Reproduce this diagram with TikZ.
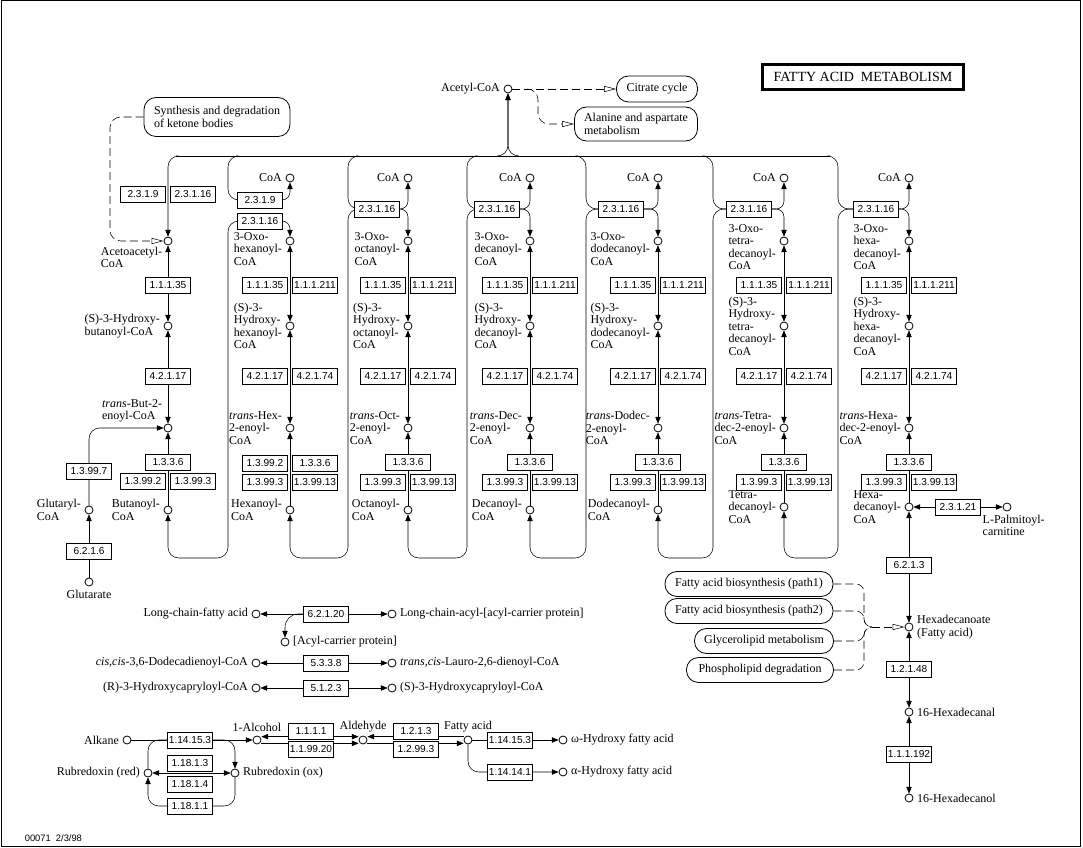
\documentclass[tikz,border=0pt]{standalone}
\usepackage{fontspec}
\setmainfont{Liberation Serif}
\newfontfamily\ecfamily{Liberation Sans}
\usetikzlibrary{positioning,arrows.meta,backgrounds}

\begin{document}
\begin{tikzpicture}[x=0.75pt, y=-0.75pt,
  font=\fontsize{9}{9.4}\selectfont, line width=0.6pt,
  label distance=2.5pt,
  every label/.style={align=left, inner sep=0pt},
  cpd/.style={circle, draw, fill=white, inner sep=0pt, minimum size=6pt},
  ec/.style={draw, fill=white, inner sep=1pt, minimum width=33.75pt,
             minimum height=12pt, font=\ecfamily\fontsize{7.6}{8}\selectfont},
  mapbox/.style={draw, fill=white, rounded corners=9pt, align=left, inner sep=2pt},
  arr/.style={-{Triangle[length=5pt,width=4pt]}},
  rxn/.style={{Triangle[length=5pt,width=4pt]}-{Triangle[length=5pt,width=4pt]}},
  dlink/.style={dash pattern=on 6pt off 3pt},
  link/.style={dlink, -{Triangle[open,length=9pt,width=4.5pt]}}]

\useasboundingbox (0,0) rectangle (1083,848);

\node[draw, line width=2.2pt, minimum width=150.75pt, minimum height=18.75pt,
      font=\fontsize{10.5}{12}\selectfont] (title) at (863,77) {FATTY ACID\ \ METABOLISM};

% acetyl-CoA and the linked maps
\node[cpd, label={left:{Acetyl-CoA}}] (acoa) at (508,89) {};
\node[mapbox, minimum width=60.75pt, minimum height=19.5pt] (tca) at (657,89) {Citrate cycle};
\node[mapbox, minimum width=92.25pt, minimum height=25.5pt] (ala) at (636,124) {Alanine and aspartate\\metabolism};
\node[mapbox, minimum width=109.5pt, minimum height=29.25pt] (ket) at (217,117) {Synthesis and degradation\\of ketone bodies};
\coordinate (busl) at (176,156);
\coordinate (busr) at (830,156);
\coordinate (hubl) at (500,156);
\coordinate (hubr) at (516,156);
\coordinate (split) at (528,89);
\coordinate (ketbend) at (110,241);

% C4
\node[cpd, label={below left:{Acetoacetyl-\\CoA}}] (oxo1) at (168,241) {};
\node[cpd, label={left:{(S)-3-Hydroxy-\\butanoyl-CoA}}] (hyd1) at (168,326) {};
\node[cpd, label={above left:{\textit{trans}-But-2-\\enoyl-CoA}}] (ens1) at (168,428) {};
\node[cpd, label={left:{Butanoyl-\\CoA}}] (acy1) at (168,510) {};
\node[ec] (thA1) at (143,194) {2.3.1.9};
\node[ec] (thB1) at (193,194) {2.3.1.16};
\node[ec] (dh1)  at (168,285) {1.1.1.35};
\node[ec] (hy1)  at (168,376) {4.2.1.17};
\node[ec] (ox1)  at (168,462) {1.3.3.6};
\node[ec] (ac1)  at (143,481) {1.3.99.2};
\node[ec] (ad1)  at (193,481) {1.3.99.3};
\node[cpd, label={left:{Glutaryl-\\CoA}}] (glc) at (89,510) {};
\node[cpd, label={below:{Glutarate}}] (glt) at (89,582) {};
\node[ec] (gdh) at (89,471) {1.3.99.7};
\node[ec] (gcl) at (89,551) {6.2.1.6};

% C6
\node[cpd, label={left:{CoA}}] (coa2) at (290,178) {};
\node[cpd, label={[yshift=-6pt]left:{3-Oxo-\\hexanoyl-\\CoA}}] (oxo2) at (290,241) {};
\node[cpd, label={left:{(S)-3-\\Hydroxy-\\hexanoyl-\\CoA}}] (hyd2) at (290,326) {};
\node[cpd, label={left:{\textit{trans}-Hex-\\2-enoyl-\\CoA}}] (ens2) at (290,428) {};
\node[cpd, label={left:{Hexanoyl-\\CoA}}] (acy2) at (290,510) {};
\node[ec] (thA2) at (260,200) {2.3.1.9};
\node[ec] (thB2) at (260,221) {2.3.1.16};
\node[ec] (dh2)  at (265,285) {1.1.1.35};
\node[ec] (dhb2) at (315,285) {1.1.1.211};
\node[ec] (hy2)  at (265,376) {4.2.1.17};
\node[ec] (hyb2) at (315,376) {4.2.1.74};
\node[ec] (ac2)  at (265,463) {1.3.99.2};
\node[ec] (ox2)  at (315,463) {1.3.3.6};
\node[ec] (ad2)  at (265,482) {1.3.99.3};
\node[ec] (adb2) at (315,482) {1.3.99.13};

% C8
\node[cpd, label={left:{CoA}}] (coa3) at (408,178) {};
\node[cpd, label={[yshift=-6pt]left:{3-Oxo-\\octanoyl-\\CoA}}] (oxo3) at (408,241) {};
\node[cpd, label={left:{(S)-3-\\Hydroxy-\\octanoyl-\\CoA}}] (hyd3) at (408,326) {};
\node[cpd, label={left:{\textit{trans}-Oct-\\2-enoyl-\\CoA}}] (ens3) at (408,428) {};
\node[cpd, label={left:{Octanoyl-\\CoA}}] (acy3) at (408,510) {};
\node[ec] (thB3) at (377,209) {2.3.1.16};
\node[ec] (dh3)  at (383,285) {1.1.1.35};
\node[ec] (dhb3) at (433,285) {1.1.1.211};
\node[ec] (hy3)  at (383,376) {4.2.1.17};
\node[ec] (hyb3) at (433,376) {4.2.1.74};
\node[ec] (ox3)  at (408,462) {1.3.3.6};
\node[ec] (ad3)  at (383,482) {1.3.99.3};
\node[ec] (adb3) at (433,482) {1.3.99.13};

% C10
\node[cpd, label={left:{CoA}}] (coa4) at (530,178) {};
\node[cpd, label={[yshift=-6pt]left:{3-Oxo-\\decanoyl-\\CoA}}] (oxo4) at (530,241) {};
\node[cpd, label={left:{(S)-3-\\Hydroxy-\\decanoyl-\\CoA}}] (hyd4) at (530,326) {};
\node[cpd, label={left:{\textit{trans}-Dec-\\2-enoyl-\\CoA}}] (ens4) at (530,428) {};
\node[cpd, label={left:{Decanoyl-\\CoA}}] (acy4) at (530,510) {};
\node[ec] (thB4) at (497,209) {2.3.1.16};
\node[ec] (dh4)  at (505,285) {1.1.1.35};
\node[ec] (dhb4) at (555,285) {1.1.1.211};
\node[ec] (hy4)  at (505,376) {4.2.1.17};
\node[ec] (hyb4) at (555,376) {4.2.1.74};
\node[ec] (ox4)  at (530,462) {1.3.3.6};
\node[ec] (ad4)  at (505,482) {1.3.99.3};
\node[ec] (adb4) at (555,482) {1.3.99.13};

% C12
\node[cpd, label={left:{CoA}}] (coa5) at (658,178) {};
\node[cpd, label={[yshift=-6pt]left:{3-Oxo-\\dodecanoyl-\\CoA}}] (oxo5) at (658,241) {};
\node[cpd, label={left:{(S)-3-\\Hydroxy-\\dodecanoyl-\\CoA}}] (hyd5) at (658,326) {};
\node[cpd, label={left:{\textit{trans}-Dodec-\\2-enoyl-\\CoA}}] (ens5) at (658,428) {};
\node[cpd, label={left:{Dodecanoyl-\\CoA}}] (acy5) at (658,510) {};
\node[ec] (thB5) at (621,209) {2.3.1.16};
\node[ec] (dh5)  at (633,285) {1.1.1.35};
\node[ec] (dhb5) at (683,285) {1.1.1.211};
\node[ec] (hy5)  at (633,376) {4.2.1.17};
\node[ec] (hyb5) at (683,376) {4.2.1.74};
\node[ec] (ox5)  at (658,462) {1.3.3.6};
\node[ec] (ad5)  at (633,482) {1.3.99.3};
\node[ec] (adb5) at (683,482) {1.3.99.13};

% C14
\node[cpd, label={left:{CoA}}] (coa6) at (784,178) {};
\node[cpd, label={[yshift=-4.5pt]left:{3-Oxo-\\tetra-\\decanoyl-\\CoA}}] (oxo6) at (784,241) {};
\node[cpd, label={left:{(S)-3-\\Hydroxy-\\tetra-\\decanoyl-\\CoA}}] (hyd6) at (784,326) {};
\node[cpd, label={left:{\textit{trans}-Tetra-\\dec-2-enoyl-\\CoA}}] (ens6) at (784,428) {};
\node[cpd, label={left:{Tetra-\\decanoyl-\\CoA}}] (acy6) at (784,507) {};
\node[ec] (thB6) at (749,209) {2.3.1.16};
\node[ec] (dh6)  at (759,285) {1.1.1.35};
\node[ec] (dhb6) at (809,285) {1.1.1.211};
\node[ec] (hy6)  at (759,376) {4.2.1.17};
\node[ec] (hyb6) at (809,376) {4.2.1.74};
\node[ec] (ox6)  at (784,462) {1.3.3.6};
\node[ec] (ad6)  at (759,482) {1.3.99.3};
\node[ec] (adb6) at (809,482) {1.3.99.13};

% C16
\node[cpd, label={left:{CoA}}] (coa7) at (909,178) {};
\node[cpd, label={[yshift=-4.5pt]left:{3-Oxo-\\hexa-\\decanoyl-\\CoA}}] (oxo7) at (909,241) {};
\node[cpd, label={left:{(S)-3-\\Hydroxy-\\hexa-\\decanoyl-\\CoA}}] (hyd7) at (909,326) {};
\node[cpd, label={left:{\textit{trans}-Hexa-\\dec-2-enoyl-\\CoA}}] (ens7) at (909,428) {};
\node[cpd, label={left:{Hexa-\\decanoyl-\\CoA}}] (acy7) at (909,507) {};
\node[ec] (thB7) at (876,209) {2.3.1.16};
\node[ec] (dh7)  at (884,285) {1.1.1.35};
\node[ec] (dhb7) at (934,285) {1.1.1.211};
\node[ec] (hy7)  at (884,376) {4.2.1.17};
\node[ec] (hyb7) at (934,376) {4.2.1.74};
\node[ec] (ox7)  at (909,462) {1.3.3.6};
\node[ec] (ad7)  at (884,482) {1.3.99.3};
\node[ec] (adb7) at (934,482) {1.3.99.13};

\node[cpd, label={[xshift=5pt]below:{L-Palmitoyl-\\carnitine}}] (lpc) at (1007,507) {};
\node[ec] (cpt) at (958,507) {2.3.1.21};
\node[ec] (acs) at (909,565) {6.2.1.3};
\node[cpd, label={right:{Hexadecanoate\\(Fatty acid)}}] (hxa) at (909,627) {};
\node[ec] (fald) at (909,669) {1.2.1.48};
\node[cpd, label={right:{16-Hexadecanal}}] (hxal) at (909,712) {};
\node[ec] (fadh) at (909,754) {1.1.1.192};
\node[cpd, label={right:{16-Hexadecanol}}] (hxol) at (909,798) {};

\node[mapbox, minimum width=126pt, minimum height=18.75pt] (fab1) at (749,584) {Fatty acid biosynthesis (path1)};
\node[mapbox, minimum width=126pt, minimum height=18.75pt] (fab2) at (749,611) {Fatty acid biosynthesis (path2)};
\node[mapbox, minimum width=104.25pt, minimum height=18.75pt] (glm) at (764,641) {Glycerolipid metabolism};
\node[mapbox, minimum width=110.25pt, minimum height=18.75pt] (pld) at (760,670) {Phospholipid degradation};
\coordinate (brace) at (864,627);
\coordinate (bracetip) at (872,627);

% side reactions
\node[cpd, label={left:{Long-chain-fatty acid}}] (lcfa) at (256,614) {};
\node[ec] (lcs) at (326,614) {6.2.1.20};
\node[cpd, label={right:{Long-chain-acyl-[acyl-carrier protein]}}] (lcacp) at (392,614) {};
\node[cpd, label={right:{[Acyl-carrier protein]}}] (acp) at (285,642) {};
\node[cpd, label={left:{\textit{cis,cis}-3,6-Dodecadienoyl-CoA}}] (ccd) at (256,663) {};
\node[ec] (eci) at (326,663) {5.3.3.8};
\node[cpd, label={right:{\textit{trans,cis}-Lauro-2,6-dienoyl-CoA}}] (tcl) at (392,663) {};
\node[cpd, label={left:{(R)-3-Hydroxycapryloyl-CoA}}] (rhc) at (256,688) {};
\node[ec] (epi) at (326,688) {5.1.2.3};
\node[cpd, label={right:{(S)-3-Hydroxycapryloyl-CoA}}] (shc) at (392,688) {};

\node[cpd, label={left:{Alkane}}] (alk) at (127,740) {};
\node[ec] (ahx) at (190,740) {1.14.15.3};
\node[cpd, label={above:{1-Alcohol}}] (alc) at (257,740) {};
\node[cpd, label={left:{Rubredoxin (red)}}] (rred) at (148,773) {};
\node[cpd, label={right:{Rubredoxin (ox)}}] (rox) at (235,773) {};
\node[ec] (rdr1) at (190,763) {1.18.1.3};
\node[ec] (rdr2) at (190,784) {1.18.1.4};
\node[ec] (rdr3) at (190,806) {1.18.1.1};
\node[ec] (adhA) at (311,731) {1.1.1.1};
\node[ec] (adhB) at (311,749) {1.1.99.20};
\node[cpd, label={above:{Aldehyde}}] (ald) at (363,740) {};
\node[ec] (aldA) at (416,731) {1.2.1.3};
\node[ec] (aldB) at (416,749) {1.2.99.3};
\node[cpd, label={above:{Fatty acid}}] (fa) at (468,740) {};
\node[ec] (omg) at (510,740) {1.14.15.3};
\node[cpd, label={right:{ω-Hydroxy fatty acid}}] (ohfa) at (563,740) {};
\node[ec] (alp) at (510,772) {1.14.14.1};
\node[cpd, label={right:{α-Hydroxy fatty acid}}] (ahfa) at (563,772) {};

\node[anchor=west, font=\ecfamily\fontsize{7}{8}\selectfont] (stamp) at (20,838) {00071\ \ 2/3/98};

\begin{scope}[on background layer]
\draw[line width=0.75pt] (1,1) rectangle (1080,846);

% links to other maps
\draw[link] (acoa) -- (tca);
\draw[link, rounded corners=8] (split) -| (538,124) -- (ala);
\draw[link, rounded corners=8] (ket) -| (ketbend) -- (oxo1);
\foreach \p in {fab1,fab2,glm,pld}
  \draw[dlink, rounded corners=6] (\p) -| (brace) -- (bracetip);
\draw[link] (bracetip) -- (hxa);

% acetyl-CoA bus and thiolase loops
\draw (busl) -- (busr);
\draw[arr, rounded corners=8] (busl) -| (oxo1);
\draw[arr, rounded corners=8] (hubl) -| (acoa);
\draw[arr, rounded corners=8] (hubr) -| (acoa);
\draw[rounded corners=8] (busr) -| (838,209) -- (thB7);
\foreach \n/\bx in {2/228, 3/348, 4/467}
  \coordinate (tap\n) at (\bx+8,156);
\foreach \n/\bx in {5/586, 6/713}
  \coordinate (tap\n) at (\bx-8,156);
\draw[rounded corners=8] (tap2) -| (228,200) -- (thA2);
\foreach \n/\bx in {3/348, 4/467, 5/586, 6/713}
  \draw[rounded corners=8] (tap\n) -| (\bx,209) -- (thB\n);
\foreach \n/\m/\bx in {1/2/228, 2/3/348, 3/4/467, 4/5/586, 5/6/713, 6/7/838}
  \draw[arr, rounded corners=8] (thB\m) -| (\bx,558) -| (acy\n);
\draw[arr, rounded corners=6] (thA2) -| (coa2);
\draw[arr, rounded corners=6] (thB2) -| (oxo2);
\foreach \n in {3,...,7} {
  \draw[arr, rounded corners=6] (thB\n) -| (coa\n);
  \draw[arr, rounded corners=6] (thB\n) -| (oxo\n);
}
\foreach \n in {1,...,7} {
  \draw[rxn] (oxo\n) -- (hyd\n);
  \draw[rxn] (hyd\n) -- (ens\n);
  \draw[arr] (acy\n) -- (ens\n);
}
\draw[arr] (glt) -- (glc);
\draw[arr, rounded corners=8] (glc) |- (ens1);

% hexadecanoyl-CoA branch
\draw[rxn] (acy7) -- (lpc);
\draw[rxn] (acy7) -- (hxa);
\draw[rxn] (hxa) -- (hxal);
\draw[rxn] (hxal) -- (hxol);

% side reactions
\draw[rxn] (lcfa) -- (lcacp);
\draw[arr, rounded corners=10] (lcs) -| (acp);
\draw[rxn] (ccd) -- (tcl);
\draw[rxn] (rhc) -- (shc);

\draw[arr] (alk) -- (alc);
\draw[rounded corners=8] (rred) |- (ahx);
\draw[arr, rounded corners=8] (ahx) -| (rox);
\draw[rounded corners=8] (rox) |- (rdr3);
\draw[arr, rounded corners=8] (rdr3) -| (rred);
\draw[rxn] (rred) -- (rox);
\draw[rxn] ([yshift=2.5pt]alc.east) -- ([yshift=2.5pt]ald.west);
\draw[arr] ([yshift=-2.5pt]alc.east) -- ([yshift=-2.5pt]ald.west);
\draw[arr] ([yshift=2.5pt]fa.west) -- ([yshift=2.5pt]ald.east);
\draw[arr] ([yshift=-2.5pt]ald.east) -- ([yshift=-2.5pt]fa.west);
\draw[arr] (fa) -- (ohfa);
\draw[arr, rounded corners=8] (fa) |- (ahfa);
\end{scope}

\end{tikzpicture}
\end{document}
